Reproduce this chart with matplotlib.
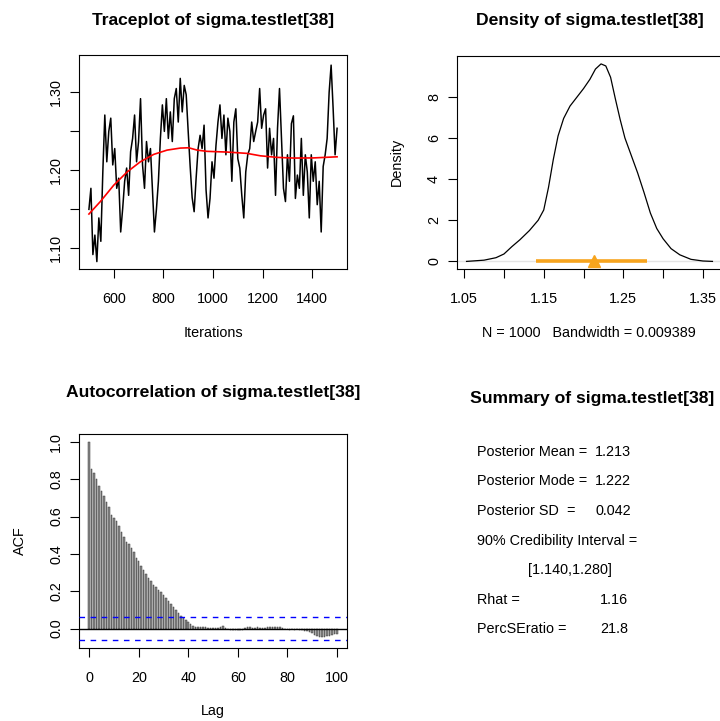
import matplotlib

matplotlib.use("Agg")
import matplotlib.pyplot as plt
import numpy as np

plt.rcParams["font.family"] = ["Liberation Sans", "DejaVu Sans"]

PARAM = "sigma.testlet[38]"

TRACE_ITER = np.arange(500, 1501, 8)
TRACE_VALUES = [
    1.150, 1.177, 1.092, 1.117, 1.083, 1.139, 1.109, 1.198, 1.271, 1.211,
    1.250, 1.267, 1.207, 1.228, 1.177, 1.190, 1.121, 1.151, 1.186, 1.203,
    1.168, 1.224, 1.241, 1.271, 1.211, 1.237, 1.292, 1.207, 1.177, 1.237,
    1.211, 1.228,
    1.175, 1.121, 1.150, 1.186, 1.241, 1.284, 1.250, 1.292, 1.241, 1.275,
    1.237, 1.292, 1.305, 1.262, 1.318, 1.275, 1.309, 1.297, 1.250, 1.205,
    1.165, 1.147, 1.190, 1.228, 1.245, 1.228, 1.258, 1.175, 1.139, 1.164,
    1.211, 1.190,
    1.232, 1.262, 1.284, 1.241, 1.271, 1.220, 1.267, 1.250, 1.186, 1.262,
    1.279, 1.215, 1.203, 1.168, 1.139, 1.198, 1.220, 1.228, 1.262, 1.237,
    1.250, 1.262, 1.305, 1.254, 1.271, 1.279, 1.203, 1.254, 1.220, 1.241,
    1.168, 1.254,
    1.305, 1.241, 1.177, 1.160, 1.220, 1.186, 1.260, 1.270, 1.164, 1.194,
    1.177, 1.241, 1.168, 1.220, 1.198, 1.139, 1.220, 1.186, 1.211, 1.156,
    1.186, 1.121, 1.205, 1.220, 1.241, 1.300, 1.335, 1.280, 1.220, 1.254,
]
# loess smooth (red)
SMOOTH_ITER = [500, 546, 600, 654, 707, 761, 815, 868, 902, 936, 976,
               1057, 1137, 1191, 1258, 1325, 1405, 1500]
SMOOTH_VALUES = [1.144, 1.160, 1.181, 1.198, 1.211, 1.2205, 1.226, 1.2286,
                 1.229, 1.226, 1.2244, 1.2235, 1.2218, 1.2187, 1.2167,
                 1.2158, 1.216, 1.2174]

# ---- posterior density -----------------------------------------------------
DENS_X = [1.053, 1.075, 1.090, 1.100, 1.110, 1.120, 1.132, 1.143, 1.150,
          1.156, 1.162, 1.168, 1.175, 1.183, 1.192, 1.200, 1.208, 1.215,
          1.222, 1.228, 1.234, 1.240, 1.246, 1.252, 1.260, 1.268, 1.276,
          1.284, 1.292, 1.300, 1.310, 1.321, 1.335, 1.350, 1.362]
DENS_Y = [0.0, 0.06, 0.18, 0.36, 0.72, 1.05, 1.5, 2.0, 2.5, 3.6, 4.95, 6.1,
          6.95, 7.55, 8.0, 8.4, 8.85, 9.35, 9.6, 9.5, 8.95, 7.9, 6.9, 6.0,
          5.15, 4.3, 3.35, 2.35, 1.6, 1.1, 0.62, 0.32, 0.1, 0.02, 0.0]
N_DRAWS = 1000
BANDWIDTH = 0.009389

# ---- autocorrelation -------------------------------------------------------
ACF_LAGS = np.arange(0, 101)
ACF_VALUES = [
    1.000, 0.853, 0.835, 0.800, 0.762, 0.738, 0.710, 0.680, 0.650, 0.610,
    0.595, 0.578, 0.552, 0.515, 0.492, 0.466, 0.452, 0.433, 0.410, 0.378,
    0.360, 0.336, 0.315, 0.293, 0.270, 0.257, 0.234, 0.222, 0.204, 0.196,
    0.180, 0.165, 0.150, 0.132, 0.114, 0.097, 0.083, 0.070, 0.058, 0.046,
    0.034, 0.022, 0.014, 0.010,
    0.008, 0.010, 0.008, 0.006, 0.005, 0.003, 0.002, 0.001, 0.003, 0.006,
    0.012, 0.004, -0.004, -0.006, -0.008, -0.009, -0.007, -0.010, -0.006,
    0.002, 0.006, 0.009, 0.005, 0.004, 0.006, 0.003, 0.002, 0.005, 0.007,
    0.006, 0.009, 0.008, 0.010, 0.006, 0.003, -0.001, -0.004, -0.006,
    -0.003, -0.007, -0.004, -0.005, -0.010, -0.012, -0.015, -0.020, -0.025,
    -0.035, -0.042, -0.045, -0.043, -0.046, -0.040, -0.038, -0.036, -0.030,
    -0.028,
]

# ---- summary ---------------------------------------------------------------
POST_MEAN = 1.213
POST_MODE = 1.222
POST_SD = 0.042
CI_LOW, CI_HIGH = 1.140, 1.280
RHAT = 1.16
PERC_SE_RATIO = 21.8

W, H = 720, 721
TITLE_FS = 12.6
TEXT_FS = 10.4


def px(x, y):
    """pixel (from top-left) -> figure fraction"""
    return x / W, 1 - y / H


def box(left, top, right, bottom):
    return [left / W, 1 - bottom / H, (right - left) / W, (bottom - top) / H]


def style_axes(ax):
    for s in ax.spines.values():
        s.set_linewidth(0.8)
        s.set_color("black")
    ax.tick_params(length=6.5, width=0.8, labelsize=TEXT_FS)
    ax.tick_params(axis="x", pad=10)
    ax.tick_params(axis="y", pad=5, labelrotation=90)
    for lab in ax.get_yticklabels():
        lab.set_va("center")


def main():
    fig = plt.figure(figsize=(W / 100, H / 100), dpi=100)

    # Traceplot
    ax = fig.add_axes(box(79, 55, 347, 269))
    ax.plot(TRACE_ITER, TRACE_VALUES, color="black", lw=1.1)
    ax.plot(SMOOTH_ITER, SMOOTH_VALUES, color="red", lw=1.2)
    ax.set_xlim(460, 1540)
    ax.set_ylim(1.0735, 1.348)
    ax.set_xticks([600, 800, 1000, 1200, 1400])
    ax.set_yticks([1.10, 1.15, 1.20, 1.25, 1.30])
    ax.set_yticklabels(["1.10", "", "1.20", "", "1.30"])
    style_axes(ax)
    fig.text(*px(213, 21), f"Traceplot of {PARAM}", ha="center", va="center",
             fontsize=TITLE_FS, fontweight="bold")
    fig.text(*px(213, 333), "Iterations", ha="center", va="center", fontsize=TEXT_FS)

    # Density
    ax = fig.add_axes(box(457, 56, 722, 269.3))
    ax.axhline(0, color="#e4e4e4", lw=1.0, zorder=1)
    ax.plot(DENS_X, DENS_Y, color="black", lw=0.9, zorder=2)
    ax.plot([CI_LOW, CI_HIGH], [0, 0], color="#f7a41d", lw=2.6,
            solid_capstyle="butt", zorder=3)
    ax.plot([POST_MEAN], [0], marker="^", ms=9, color="#f7a41d",
            mec="#f7a41d", zorder=4)
    ax.set_xlim(1.041, 1.374)
    ax.set_ylim(-0.384, 9.984)
    ax.set_xticks([1.05, 1.10, 1.15, 1.20, 1.25, 1.30, 1.35])
    ax.set_xticklabels(["1.05", "", "1.15", "", "1.25", "", "1.35"])
    ax.set_yticks([0, 2, 4, 6, 8])
    style_axes(ax)
    fig.text(*px(590, 21), f"Density of {PARAM}", ha="center", va="center",
             fontsize=TITLE_FS, fontweight="bold")
    fig.text(*px(589, 333), f"N = {N_DRAWS}   Bandwidth = {BANDWIDTH}",
             ha="center", va="center", fontsize=TEXT_FS)
    fig.text(*px(397, 162), "Density", ha="center", va="center",
             rotation=90, fontsize=TEXT_FS)

    # Autocorrelation
    ax = fig.add_axes(box(79.3, 434, 346.7, 648.3))
    ax.bar(ACF_LAGS, ACF_VALUES, width=0.6, color="#8a8a8a",
           edgecolor="#3a3a3a", lw=0.35, zorder=2)
    ax.axhline(0, color="black", lw=1.0, zorder=3)
    clim = 2 / np.sqrt(N_DRAWS)
    for y in (clim, -clim):
        ax.axhline(y, color="blue", lw=1.0, ls=(0, (4, 4)), zorder=3)
    ax.set_xlim(-4, 104)
    ax.set_ylim(-0.1057, 1.0425)
    ax.set_xticks([0, 20, 40, 60, 80, 100])
    ax.set_yticks([0.0, 0.2, 0.4, 0.6, 0.8, 1.0])
    ax.set_yticklabels(["0.0", "0.2", "0.4", "0.6", "0.8", "1.0"])
    style_axes(ax)
    fig.text(*px(213, 393), f"Autocorrelation of {PARAM}", ha="center",
             va="center", fontsize=TITLE_FS, fontweight="bold")
    fig.text(*px(213, 711), "Lag", ha="center", va="center", fontsize=TEXT_FS)
    fig.text(*px(20, 541), "ACF", ha="center", va="center", rotation=90,
             fontsize=TEXT_FS)

    # Summary text panel
    fig.text(*px(592, 398), f"Summary of {PARAM}", ha="center", va="center",
             fontsize=TITLE_FS, fontweight="bold")
    rows = [
        (452, "Posterior Mean =", f"{POST_MEAN:.3f}", 595),
        (481, "Posterior Mode =", f"{POST_MODE:.3f}", 595),
        (511, "Posterior SD", f"{POST_SD:.3f}", 595),
        (541, "90% Credibility Interval =", "", 0),
        (570, "", f"[{CI_LOW:.3f},{CI_HIGH:.3f}]", 528),
        (600, "Rhat =", f"{RHAT:.2f}", 600),
        (629, "PercSEratio =", f"{PERC_SE_RATIO:.1f}", 600),
    ]
    for y, label, value, vx in rows:
        if label:
            fig.text(*px(477, y), label, ha="left", va="center", fontsize=TEXT_FS)
        if value:
            fig.text(*px(vx, y), value, ha="left", va="center", fontsize=TEXT_FS)
    fig.text(*px(566, 511), "=", ha="left", va="center", fontsize=TEXT_FS)

    fig.savefig("out.png", dpi=100)
    plt.close(fig)


if __name__ == "__main__":
    main()
